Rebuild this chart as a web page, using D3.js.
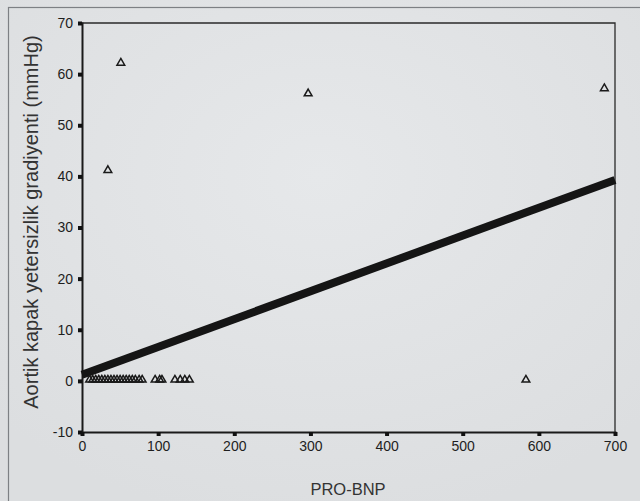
<!DOCTYPE html>
<html><head><meta charset="utf-8">
<script src="https://cdn.jsdelivr.net/npm/d3@7"></script>
<style>body{margin:0;background:#e1e3e5;} svg{display:block;}</style>
</head><body>
<svg id="c" width="640" height="501"></svg>
<script>
// data
const pointsX = [10,14,18,22,26,30,34,38,42,46,50,54,58,62,66,70,75,79,96,102,105,122,129,135,141,583, 34,51,297,686];
const pointsY = [0,0,0,0,0,0,0,0,0,0,0,0,0,0,0,0,0,0,0,0,0,0,0,0,0,0, 41,62,56,57];
const fitX = [0, 700];
const fitY = [1.2, 39.3];
const xTicks = [0,100,200,300,400,500,600,700];
const yTicks = [-10,0,10,20,30,40,50,60,70];
const xTitle = "PRO-BNP";
const yTitle = "Aortik kapak yetersizlik gradiyenti (mmHg)";

const svg = d3.select("#c");
const defs = svg.append("defs");
const g0 = defs.append("radialGradient").attr("id","bg").attr("cx","0.5").attr("cy","0.35").attr("r","0.7");
g0.append("stop").attr("offset","0").attr("stop-color","#e6e8ea");
g0.append("stop").attr("offset","1").attr("stop-color","#dcdee0");
svg.append("rect").attr("width",640).attr("height",501).attr("fill","url(#bg)");
// photo border
svg.append("rect").attr("x",8.5).attr("y",7.5).attr("width",640).attr("height",520)
  .attr("fill","none").attr("stroke","#7d8084").attr("stroke-width",1.2);

const L=82, R=615, T=23, B=432;
const x = d3.scaleLinear().domain([0,700]).range([L,R]);
const y = d3.scaleLinear().domain([-10,70]).range([B,T]);
const font = "Arial, 'Liberation Sans', sans-serif";
const fmt = d => String(d);

// frame
svg.append("path").attr("d",`M${L},${T}H${R}V${B}`).attr("fill","none").attr("stroke","#2a2a2a").attr("stroke-width",1.3);

const ya = svg.append("g").attr("transform",`translate(${L},0)`).call(d3.axisLeft(y).tickValues(yTicks).tickFormat(fmt).tickSize(4).tickPadding(5));
const xa = svg.append("g").attr("transform",`translate(0,${B})`).call(d3.axisBottom(x).tickValues(xTicks).tickFormat(fmt).tickSize(4).tickPadding(5));
[ya,xa].forEach(a=>{
  a.select(".domain").attr("stroke","#1a1a1a").attr("stroke-width",2);
  a.selectAll(".tick line").attr("stroke","#111").attr("stroke-width",4);
  a.selectAll(".tick text").attr("font-family",font).attr("font-size",14).attr("fill","#1e1e1e");
});

// regression line
svg.append("line").attr("x1",x(fitX[0])).attr("y1",y(fitY[0])).attr("x2",x(fitX[1])).attr("y2",y(fitY[1]))
  .attr("stroke","#151515").attr("stroke-width",8);

// triangles
const tri = d3.symbol().type(d3.symbolTriangle).size(26);
svg.append("g").selectAll("path").data(pointsX.map((d,i)=>[d,pointsY[i]])).join("path")
  .attr("d",tri).attr("transform",d=>`translate(${x(d[0])},${y(d[1])-1})`)
  .attr("fill","none").attr("stroke","#1a1a1a").attr("stroke-width",1.5);

// titles
svg.append("text").attr("x",348).attr("y",495).attr("text-anchor","middle")
  .attr("font-family",font).attr("font-size",16.5).attr("fill","#333").text(xTitle);
svg.append("text").attr("transform","translate(38,222) rotate(-90)").attr("text-anchor","middle")
  .attr("font-family",font).attr("font-size",20).attr("fill","#333").text(yTitle);
</script>
</body></html>
